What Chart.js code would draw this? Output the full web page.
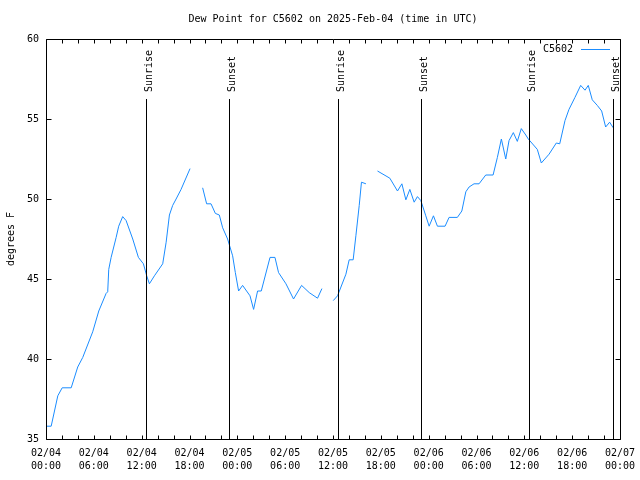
<!DOCTYPE html>
<html>
<head>
<meta charset="utf-8">
<title>Dew Point for C5602</title>
<script src="https://cdn.jsdelivr.net/npm/chart.js"></script>
<style>
  html, body { margin: 0; padding: 0; background: #fff; }
  canvas { display: block; }
</style>
</head>
<body>
<canvas id="dewPointChart" width="640" height="480"></canvas>
<script>
// hours since 2025-02-04 00:00 UTC, null = missing obs (breaks the line)
const hours = [
  0.0, 0.65, 1.48, 2.03, 3.16, 3.98, 4.61, 5.86, 6.62, 7.54, 7.74, 7.87, 8.17, 8.8, 9.12,
  9.62, 10.05, 10.88, 11.59, 12.22, 12.63, 12.97, 13.6, 14.64, 15.07, 15.48, 15.89, 16.32, 16.94, 18.07,
  18.9,
  19.65, 20.15, 20.7, 21.24, 21.74, 22.16, 22.78, 23.41, 23.75, 24.16, 24.66, 25.59, 26.04, 26.54,
  27.0, 28.1, 28.72, 29.17, 30.1, 31.05, 32.06, 33.02, 34.06, 34.61,
  35.3,
  36.03, 36.57, 37.62, 38.03, 38.53, 38.87, 39.29, 39.57, 40.13,
  40.9,
  41.58, 43.13, 44.09, 44.64, 45.14, 45.64, 46.18, 46.59, 47.02, 47.64, 48.06, 48.6, 49.1, 50.06,
  50.56, 51.6, 52.16, 52.66, 53.07, 53.69, 54.32, 55.16, 56.08, 56.62, 57.12, 57.67, 58.08, 58.62,
  59.12, 59.62, 60.18, 60.5, 61.63, 62.13, 63.1, 64.01, 64.44, 65.1, 65.6, 66.35, 67.07, 67.61,
  68.02, 68.52, 69.15, 69.7, 70.2, 70.7, 71.15
];
const dewPoint = [
  35.8, 35.8, 37.7, 38.2, 38.2, 39.5, 40.1, 41.7, 43.0, 44.1, 44.2, 45.6, 46.35, 47.6, 48.3,
  48.9, 48.65, 47.5, 46.35, 45.95, 45.2, 44.7, 45.2, 45.95, 47.3, 49.0, 49.6, 50.0, 50.6, 51.9,
  null,
  50.7, 49.7, 49.7, 49.1, 49.0, 48.2, 47.5, 46.45, 45.4, 44.25, 44.6, 43.95, 43.1, 44.25,
  44.25, 46.35, 46.35, 45.4, 44.7, 43.75, 44.6, 44.15, 43.8, 44.4,
  null,
  43.65, 43.95, 45.3, 46.2, 46.2, 47.7, 49.6, 51.05, 50.95,
  null,
  51.75, 51.3, 50.5, 50.95, 49.95, 50.6, 49.8, 50.15, 49.9, 48.95, 48.3, 48.95, 48.3, 48.3,
  48.85, 48.85, 49.25, 50.45, 50.75, 50.95, 50.95, 51.5, 51.5, 52.6, 53.75, 52.5, 53.65, 54.15,
  53.6, 54.4, 54.0, 53.75, 53.1, 52.25, 52.8, 53.5, 53.45, 54.9, 55.6, 56.35, 57.1, 56.8,
  57.1, 56.2, 55.85, 55.5, 54.5, 54.8, 54.45
];
const sunrise = [12.55, 36.6, 60.6];
const sunset = [22.96, 47.0, 71.1];
const xTickLabels = [
  ['02/04', '00:00'], ['02/04', '06:00'], ['02/04', '12:00'], ['02/04', '18:00'],
  ['02/05', '00:00'], ['02/05', '06:00'], ['02/05', '12:00'], ['02/05', '18:00'],
  ['02/06', '00:00'], ['02/06', '06:00'], ['02/06', '12:00'], ['02/06', '18:00'],
  ['02/07', '00:00']
];
const seriesName = 'C5602';

const monoFont = "'DejaVu Sans Mono', monospace";
const lineColor = '#1a8cff';

// gnuplot look: closed frame, inward ticks, sunrise/sunset markers, legend sample
const gnuplotDecor = {
  id: 'gnuplotDecor',
  afterDraw(chart) {
    const { ctx, chartArea: area, scales: { x, y } } = chart;
    const left = Math.round(area.left) + 0.5;
    const right = Math.round(area.right) + 0.5;
    const top = Math.round(area.top) + 0.5;
    const bottom = Math.round(area.bottom) + 0.5;

    ctx.save();
    ctx.strokeStyle = '#000';
    ctx.lineWidth = 1;
    ctx.beginPath();
    ctx.rect(left, top, right - left, bottom - top);
    for (let h = x.min; h <= x.max; h += 2) {
      const px = Math.round(x.getPixelForValue(h)) + 0.5;
      ctx.moveTo(px, bottom); ctx.lineTo(px, bottom - 4);
      ctx.moveTo(px, top); ctx.lineTo(px, top + 4);
    }
    for (let v = y.min; v <= y.max; v += 5) {
      const py = Math.round(y.getPixelForValue(v)) + 0.5;
      ctx.moveTo(left, py); ctx.lineTo(left + 5, py);
      ctx.moveTo(right, py); ctx.lineTo(right - 5, py);
    }

    const markers = sunrise.map(h => [h, 'Sunrise']).concat(sunset.map(h => [h, 'Sunset']));
    const lineTop = Math.round(area.top + 0.15 * area.height);
    for (const [h] of markers) {
      const px = Math.round(x.getPixelForValue(h)) + 0.5;
      ctx.moveTo(px, lineTop); ctx.lineTo(px, bottom);
    }
    ctx.stroke();

    ctx.fillStyle = '#000';
    ctx.font = '10px ' + monoFont;
    for (const [h, label] of markers) {
      const px = Math.round(x.getPixelForValue(h));
      ctx.save();
      ctx.translate(px + 6, lineTop - 7);
      ctx.rotate(-Math.PI / 2);
      ctx.textAlign = 'left';
      ctx.textBaseline = 'alphabetic';
      ctx.fillText(label, 0, 0);
      ctx.restore();
    }

    // legend
    ctx.textAlign = 'right';
    ctx.textBaseline = 'middle';
    ctx.fillText(seriesName, area.right - 47, area.top + 10.5);
    ctx.strokeStyle = lineColor;
    ctx.beginPath();
    ctx.moveTo(area.right - 39, area.top + 10.5);
    ctx.lineTo(area.right - 10, area.top + 10.5);
    ctx.stroke();
    ctx.restore();
  }
};

const points = hours.map((h, i) => ({ x: h, y: dewPoint[i] }));

new Chart(document.getElementById('dewPointChart'), {
  type: 'line',
  data: {
    datasets: [{
      label: seriesName,
      data: points,
      borderColor: lineColor,
      borderWidth: 1,
      pointRadius: 0,
      tension: 0,
      spanGaps: false,
      fill: false
    }]
  },
  options: {
    responsive: false,
    animation: false,
    layout: { padding: { top: 0, left: 0, right: 20, bottom: 0 } },
    plugins: {
      legend: { display: false },
      tooltip: { enabled: false },
      title: {
        display: true,
        fullSize: false,
        text: 'Dew Point for C5602 on 2025-Feb-04 (time in UTC)',
        color: '#000',
        font: { family: monoFont, size: 10, weight: 'normal', lineHeight: 1.2 },
        padding: { top: 13, bottom: 14 }
      }
    },
    scales: {
      x: {
        type: 'linear',
        min: 0,
        max: 72,
        grid: { display: false, drawTicks: false },
        border: { display: false },
        afterFit: (scale) => {
          scale.height = 41;
          // edge labels may hang into the margins
          scale.paddingLeft = 0;
          scale.paddingRight = 0;
        },
        ticks: {
          stepSize: 6,
          autoSkip: false,
          maxRotation: 0,
          padding: 8,
          color: '#000',
          font: { family: monoFont, size: 10, lineHeight: 1.3 },
          callback: (value) => xTickLabels[value / 6]
        }
      },
      y: {
        min: 35,
        max: 60,
        grid: { display: false, drawTicks: false },
        border: { display: false },
        afterFit: (scale) => { scale.width = 46; },
        title: {
          display: true,
          text: 'degrees F',
          color: '#000',
          font: { family: monoFont, size: 10, lineHeight: 1.2 },
          padding: { top: 5, bottom: 0 }
        },
        ticks: {
          stepSize: 5,
          padding: 7,
          color: '#000',
          font: { family: monoFont, size: 10 }
        }
      }
    }
  },
  plugins: [gnuplotDecor]
});
</script>
</body>
</html>
